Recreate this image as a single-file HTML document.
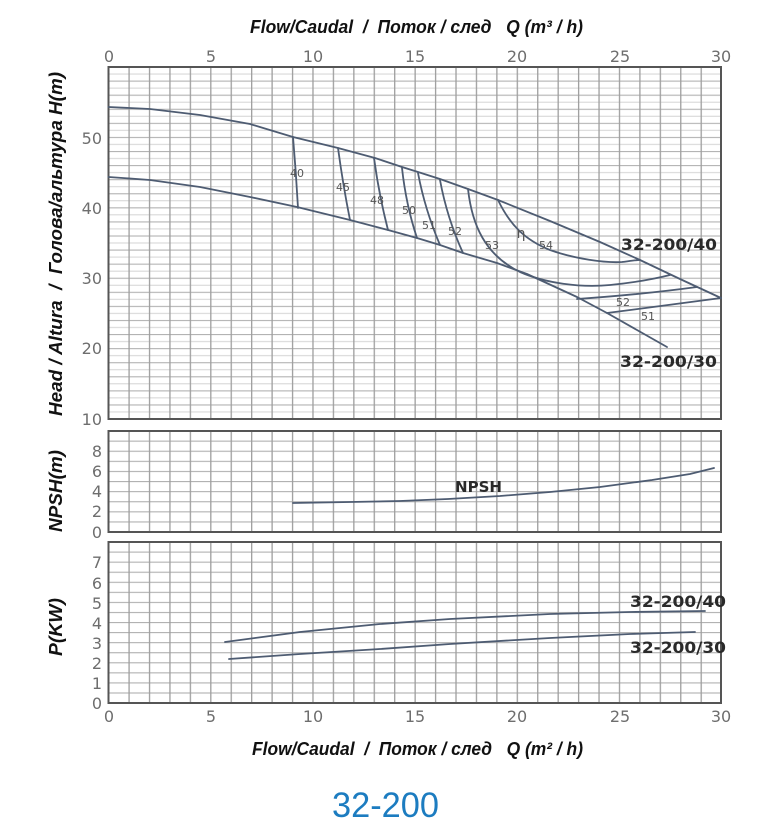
<!DOCTYPE html>
<html><head><meta charset="utf-8"><style>
html,body{margin:0;padding:0;background:#fff;}
svg{display:block;}
.tk{font-family:"DejaVu Sans","Liberation Sans",sans-serif;font-size:16px;fill:#6e6e6e;}
.ttl{font-family:"Liberation Sans",sans-serif;font-weight:bold;font-style:italic;font-size:18px;fill:#111;white-space:pre;}
.ef{font-family:"DejaVu Sans","Liberation Sans",sans-serif;font-size:11px;fill:#555;}
.cl{font-family:"DejaVu Sans","Liberation Sans",sans-serif;font-weight:bold;font-size:16px;fill:#2a2a2a;}
.cv{fill:none;stroke:#4e5c72;stroke-width:1.8;stroke-linejoin:round;stroke-linecap:round;}
</style></head><body>
<svg width="770" height="840" viewBox="0 0 770 840" xmlns="http://www.w3.org/2000/svg">
<defs>
<pattern id="pv" x="108" y="0" width="20.433" height="20" patternUnits="userSpaceOnUse"><rect x="0" y="0" width="1.3" height="20" fill="#9e9e9e"/></pattern>
<pattern id="ph" x="0" y="66.5" width="20" height="14.08" patternUnits="userSpaceOnUse"><rect x="0" y="0" width="20" height="1.1" fill="#b2b2b2"/><rect x="0" y="7.04" width="20" height="1" fill="#d4d4d4"/></pattern>
<pattern id="pn" x="0" y="430.5" width="20" height="10.1" patternUnits="userSpaceOnUse"><rect x="0" y="0" width="20" height="1.1" fill="#b0b0b0"/></pattern>
<pattern id="pp" x="0" y="541.5" width="20" height="10.0625" patternUnits="userSpaceOnUse"><rect x="0" y="0" width="20" height="1.1" fill="#b0b0b0"/></pattern>
</defs>

<!-- top title -->
<text class="ttl" x="250" y="33" textLength="333" lengthAdjust="spacingAndGlyphs">Flow/Caudal  /  Поток / след   Q (m³ / h)</text>

<!-- top tick labels -->
<g class="tk" text-anchor="middle">
<text x="109" y="62">0</text><text x="211" y="62">5</text><text x="313" y="62">10</text><text x="415" y="62">15</text><text x="517" y="62">20</text><text x="620" y="62">25</text><text x="721" y="62">30</text>
</g>

<!-- HEAD panel -->
<rect x="108.5" y="67" width="612.5" height="352" fill="url(#ph)"/>
<rect x="108.5" y="67" width="612.5" height="352" fill="url(#pv)"/>
<rect x="108.5" y="67" width="612.5" height="352" fill="none" stroke="#555" stroke-width="2"/>

<g class="tk" text-anchor="end">
<text x="102" y="144">50</text><text x="102" y="214">40</text><text x="102" y="284">30</text><text x="102" y="354">20</text><text x="102" y="425">10</text>
</g>

<!-- head curves -->
<polyline class="cv" points="108.5,107 150,109 200,115 250,124 293,137 338,148 375,158 402,167 418,172 440,179 468,189 498,200 550,221 600,242 640,260 680,279 721,298"/>
<polyline class="cv" points="108.5,177 150,180 200,187 250,197 297,207 350,220 388,230 417,238 440,245 463,253 497,263 527,274 577,297 607,313 667,347"/>

<!-- efficiency curves -->
<path class="cv" d="M293,137 Q296,172 298,208"/>
<path class="cv" d="M338,148 Q343,185 350,220"/>
<path class="cv" d="M374,158 Q379,195 388,230"/>
<path class="cv" d="M402,168 Q406,205 417,238"/>
<path class="cv" d="M418,173 Q425,210 440,245"/>
<path class="cv" d="M440,180 Q447,218 463,253"/>
<path class="cv" d="M468,189 C472,225 485,255 520,272 C545,283 580,288 610,285 C640,282 658,278 670,275"/>
<path class="cv" d="M498,200 C510,225 525,240 550,250 C575,259 605,263 622,262 C630,261 636,260 640,260"/>
<path class="cv" d="M577,299 C620,296 660,292 697,287"/>
<path class="cv" d="M607,313 C645,308 685,303 721,298"/>

<g class="ef" text-anchor="middle">
<text x="297" y="177">40</text>
<text x="343" y="191">45</text>
<text x="377" y="204">48</text>
<text x="409" y="214">50</text>
<text x="429" y="229">51</text>
<text x="455" y="235">52</text>
<text x="492" y="249">53</text>
<text x="521" y="238" style="font-size:14px">η</text>
<text x="546" y="249">54</text>
<text x="623" y="306">52</text>
<text x="648" y="320">51</text>
</g>

<text class="cl" x="621" y="250" textLength="96" lengthAdjust="spacingAndGlyphs">32-200/40</text>
<text class="cl" x="620" y="367" textLength="97" lengthAdjust="spacingAndGlyphs">32-200/30</text>

<!-- NPSH panel -->
<rect x="108.5" y="431" width="612.5" height="101" fill="url(#pn)"/>
<rect x="108.5" y="431" width="612.5" height="101" fill="url(#pv)"/>
<rect x="108.5" y="431" width="612.5" height="101" fill="none" stroke="#555" stroke-width="2"/>
<g class="tk" text-anchor="end">
<text x="102" y="457">8</text><text x="102" y="477">6</text><text x="102" y="497">4</text><text x="102" y="517">2</text><text x="102" y="538">0</text>
</g>
<polyline class="cv" points="293,503 350,502 400,501 448,499 500,496 550,492 600,487 652,480 690,474 714,468"/>
<text class="cl" x="455" y="492" textLength="47" lengthAdjust="spacingAndGlyphs" style="font-size:15px">NPSH</text>

<!-- POWER panel -->
<rect x="108.5" y="542" width="612.5" height="161" fill="url(#pp)"/>
<rect x="108.5" y="542" width="612.5" height="161" fill="url(#pv)"/>
<rect x="108.5" y="542" width="612.5" height="161" fill="none" stroke="#555" stroke-width="2"/>
<g class="tk" text-anchor="end">
<text x="102" y="568">7</text><text x="102" y="589">6</text><text x="102" y="609">5</text><text x="102" y="629">4</text><text x="102" y="649">3</text><text x="102" y="669">2</text><text x="102" y="689">1</text><text x="102" y="709">0</text>
</g>
<polyline class="cv" points="225,642 300,632 380,624 450,619 550,614 630,612 705,611"/>
<polyline class="cv" points="229,659 300,654 380,649 450,644 550,638 630,634 695,632"/>
<text class="cl" x="630" y="607" textLength="96" lengthAdjust="spacingAndGlyphs">32-200/40</text>
<text class="cl" x="630" y="653" textLength="96" lengthAdjust="spacingAndGlyphs">32-200/30</text>

<!-- bottom tick labels -->
<g class="tk" text-anchor="middle">
<text x="109" y="722">0</text><text x="211" y="722">5</text><text x="313" y="722">10</text><text x="415" y="722">15</text><text x="517" y="722">20</text><text x="620" y="722">25</text><text x="721" y="722">30</text>
</g>

<!-- bottom title -->
<text class="ttl" x="252" y="755" textLength="331" lengthAdjust="spacingAndGlyphs">Flow/Caudal  /  Поток / след   Q (m² / h)</text>

<!-- left rotated labels -->
<text class="ttl" transform="translate(62,416) rotate(-90)" x="0" y="0" textLength="344" lengthAdjust="spacingAndGlyphs">Head / Altura  /  Голова/альтура H(m)</text>
<text class="ttl" transform="translate(62,532) rotate(-90)" x="0" y="0" textLength="82" lengthAdjust="spacingAndGlyphs">NPSH(m)</text>
<text class="ttl" transform="translate(62,656) rotate(-90)" x="0" y="0" textLength="58" lengthAdjust="spacingAndGlyphs">P(KW)</text>

<!-- model -->
<text x="332" y="817" textLength="107" lengthAdjust="spacingAndGlyphs" style="font-family:'Liberation Sans',sans-serif;font-size:35px;fill:#1c7cc0;">32-200</text>
</svg>
</body></html>
